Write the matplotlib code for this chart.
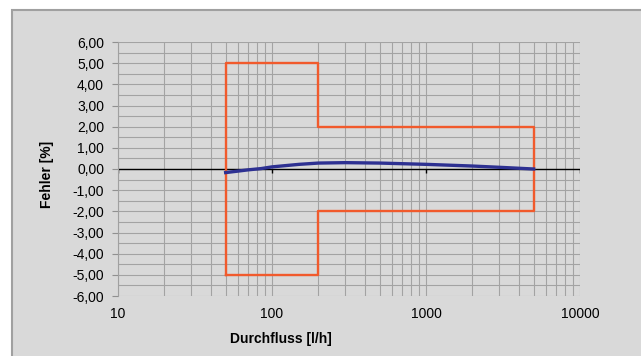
import matplotlib.pyplot as plt
from matplotlib.patches import Rectangle
from matplotlib.ticker import FixedLocator, NullFormatter

plt.rcParams['font.family'] = ['Liberation Sans', 'DejaVu Sans']

# Fehlergrenzen (Toleranzband)
grenze_x = [50, 50, 200, 200, 5000, 5000, 200, 200, 50]
grenze_y = [-5, 5, 5, 2, 2, -2, -2, -5, -5]

# Fehlerkurve
kurve_x = [50, 60, 70, 85, 100, 150, 200, 300, 500, 1000, 2000, 3000, 5000]
kurve_y = [-0.17, -0.1, -0.04, 0.02, 0.1, 0.22, 0.28, 0.3, 0.28, 0.22, 0.14, 0.08, 0.0]

x_ticks = [10, 100, 1000, 10000]
x_labels = ['10', '100', '1000', '10000']
y_ticks = [-6, -5, -4, -3, -2, -1, 0, 1, 2, 3, 4, 5, 6]

bg = '#d9d9d9'
fig = plt.figure(figsize=(6.41, 3.56), dpi=100)
fig.patch.set_facecolor('white')
fig.patches.append(Rectangle((12 / 641, -0.05), 1.1, 1 - 10 / 356 + 0.05,
                             transform=fig.transFigure, facecolor=bg,
                             edgecolor='#a0a0a0', linewidth=1.5, zorder=-10))

ax = fig.add_axes([118 / 641, 1 - 296 / 356, 462 / 641, 254 / 356])
ax.set_zorder(1)
ax.set_facecolor(bg)
ax.set_xscale('log')
ax.set_xlim(10, 10000)
ax.set_ylim(-6, 6)

# Gitter
ax.xaxis.set_major_locator(FixedLocator(x_ticks))
ax.xaxis.set_minor_locator(FixedLocator(
    [m * d for d in [10, 100, 1000] for m in range(2, 10)]))
ax.xaxis.set_minor_formatter(NullFormatter())
ax.set_xticklabels(x_labels)
ax.set_yticks(y_ticks)
ax.set_yticks([v + 0.5 for v in y_ticks[:-1]], minor=True)
ax.set_yticklabels([f'{v:.2f}'.replace('.', ',') for v in y_ticks])
ax.grid(True, which='both', color='#a3a3a3', linewidth=0.8)
ax.set_axisbelow(True)

ax.tick_params(axis='x', which='both', length=0, pad=8, labelsize=10)
ax.tick_params(axis='y', which='major', length=4, color='#909090', pad=6, labelsize=10)
ax.tick_params(axis='y', which='minor', length=0)

for s in ['top', 'right', 'bottom']:
    ax.spines[s].set_visible(False)
ax.spines['left'].set_color('#a0a0a0')

# Nulllinie mit Teilstrichen
ax.axhline(0, color='black', linewidth=1.0, zorder=2)
ax.vlines(x_ticks, -0.18, 0, color='black', linewidth=1.0, zorder=2)

ax.plot(grenze_x, grenze_y, color='#f15a2c', linewidth=1.7, zorder=3)
ax.plot(kurve_x, kurve_y, color='#2e3192', linewidth=2.4, zorder=4)

ax.set_ylabel('Fehler [%]', fontsize=10, fontweight='bold')
ax.yaxis.set_label_coords(-0.139, 0.48)
ax.set_xlabel('Durchfluss [l/h]', fontsize=10, fontweight='bold')
ax.xaxis.set_label_coords(0.353, -0.142)

fig.savefig('out.png', dpi=100, facecolor=fig.get_facecolor())
